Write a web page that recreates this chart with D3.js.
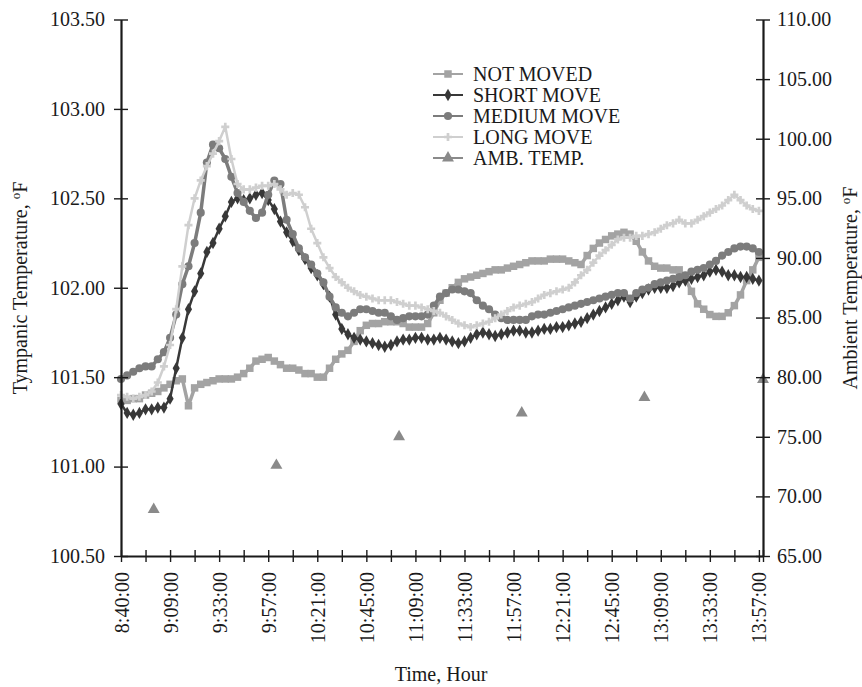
<!DOCTYPE html>
<html>
<head>
<meta charset="utf-8">
<script src="https://cdn.jsdelivr.net/npm/d3@7"></script>
<style>
  body { margin: 0; background: #fff; }
  text { font-family: "Liberation Serif", "Times New Roman", serif; fill: #1a1a1a; }
</style>
</head>
<body>
<script>
// one reading every 3 minutes-of-record (category index = k * 3)
const timeLabels = ["8:40:00", "9:09:00", "9:33:00", "9:57:00", "10:21:00", "10:45:00", "11:09:00",
  "11:33:00", "11:57:00", "12:21:00", "12:45:00", "13:09:00", "13:33:00", "13:57:00"];

const notMoved = [101.37, 101.37, 101.38, 101.38, 101.40, 101.41, 101.42, 101.44, 101.46, 101.48,
  101.49, 101.34, 101.44, 101.46, 101.47, 101.48, 101.49, 101.49, 101.49, 101.50,
  101.52, 101.55, 101.59, 101.60, 101.61, 101.59, 101.57, 101.55, 101.55, 101.54,
  101.52, 101.52, 101.50, 101.50, 101.55, 101.60, 101.63, 101.65, 101.70, 101.76,
  101.79, 101.80, 101.80, 101.81, 101.81, 101.81, 101.80, 101.78, 101.78, 101.78,
  101.80, 101.86, 101.93, 101.97, 102.00, 102.03, 102.05, 102.06, 102.07, 102.08,
  102.09, 102.10, 102.10, 102.11, 102.12, 102.13, 102.14, 102.15, 102.15, 102.15,
  102.16, 102.16, 102.16, 102.15, 102.14, 102.13, 102.18, 102.22, 102.25, 102.27,
  102.29, 102.30, 102.31, 102.30, 102.26, 102.20, 102.15, 102.12, 102.11, 102.11,
  102.10, 102.10, 102.05, 101.98, 101.91, 101.88, 101.85, 101.84, 101.84, 101.86,
  101.90, 101.96, 102.04, 102.10, 102.17];

const shortMove = [101.35, 101.30, 101.29, 101.30, 101.32, 101.32, 101.33, 101.33, 101.38, 101.55,
  101.72, 101.88, 101.98, 102.08, 102.20, 102.25, 102.33, 102.40, 102.48, 102.50,
  102.49, 102.50, 102.52, 102.53, 102.49, 102.44, 102.37, 102.31, 102.26, 102.21,
  102.16, 102.11, 102.07, 102.02, 101.95, 101.85, 101.77, 101.74, 101.72, 101.71,
  101.70, 101.69, 101.68, 101.67, 101.68, 101.70, 101.71, 101.71, 101.72, 101.72,
  101.71, 101.71, 101.72, 101.71, 101.70, 101.69, 101.70, 101.72, 101.74, 101.75,
  101.74, 101.73, 101.74, 101.75, 101.76, 101.76, 101.75, 101.75, 101.76, 101.77,
  101.77, 101.78, 101.78, 101.79, 101.80, 101.81, 101.83, 101.85, 101.87, 101.89,
  101.91, 101.93, 101.95, 101.92, 101.95, 101.97, 101.99, 102.00, 102.00, 102.00,
  102.01, 102.03, 102.04, 102.05, 102.06, 102.07, 102.09, 102.10, 102.09, 102.07,
  102.07, 102.06, 102.06, 102.05, 102.04];

const mediumMove = [101.49, 101.51, 101.53, 101.55, 101.56, 101.56, 101.60, 101.64, 101.72, 101.85,
  102.02, 102.12, 102.25, 102.42, 102.70, 102.80, 102.78, 102.72, 102.62, 102.53,
  102.48, 102.43, 102.39, 102.42, 102.52, 102.60, 102.58, 102.38, 102.30, 102.22,
  102.17, 102.13, 102.08, 102.03, 101.95, 101.89, 101.86, 101.84, 101.86, 101.88,
  101.88, 101.87, 101.86, 101.86, 101.84, 101.82, 101.83, 101.84, 101.84, 101.84,
  101.85, 101.90, 101.95, 101.97, 101.99, 101.99, 101.98, 101.97, 101.93, 101.90,
  101.88, 101.85, 101.83, 101.82, 101.82, 101.82, 101.82, 101.84, 101.85, 101.85,
  101.86, 101.87, 101.88, 101.89, 101.90, 101.91, 101.92, 101.93, 101.94, 101.95,
  101.96, 101.97, 101.97, 101.94, 101.97, 101.99, 102.00, 102.02, 102.03, 102.04,
  102.05, 102.06, 102.07, 102.09, 102.10, 102.11, 102.13, 102.15, 102.18, 102.20,
  102.22, 102.23, 102.23, 102.22, 102.20];

const longMove = [101.40, 101.39, 101.38, 101.39, 101.40, 101.42, 101.47, 101.56, 101.68, 101.88,
  102.12, 102.35, 102.50, 102.60, 102.68, 102.75, 102.82, 102.90, 102.72, 102.58,
  102.55, 102.55, 102.56, 102.57, 102.57, 102.58, 102.55, 102.52, 102.53, 102.52,
  102.45, 102.33, 102.25, 102.17, 102.11, 102.06, 102.03, 102.00, 101.98, 101.96,
  101.95, 101.94, 101.93, 101.93, 101.93, 101.92, 101.91, 101.90, 101.90, 101.89,
  101.88, 101.87, 101.86, 101.84, 101.82, 101.80, 101.79, 101.78, 101.79, 101.80,
  101.81, 101.83, 101.85, 101.87, 101.89, 101.90, 101.91, 101.92, 101.94, 101.96,
  101.97, 101.98, 101.99, 102.00, 102.03, 102.07, 102.10, 102.14, 102.18, 102.21,
  102.24, 102.27, 102.28, 102.28, 102.29, 102.29, 102.30, 102.31, 102.33, 102.35,
  102.36, 102.38, 102.36, 102.36, 102.38, 102.40, 102.42, 102.44, 102.46, 102.49,
  102.52, 102.49, 102.46, 102.44, 102.43];

// ambient temperature, only a few readings (category index + value)
const ambIndex = [16, 76, 136, 196, 256, 314];
const ambTemp = [68.9, 72.6, 75.0, 77.0, 78.3, 79.8];

const seriesNames = ["NOT MOVED", "SHORT MOVE", "MEDIUM MOVE", "LONG MOVE", "AMB. TEMP."];
const seriesColors = ["#a3a3a3", "#383838", "#7c7c7c", "#cfcfcf", "#8a8a8a"];

const width = 862, height = 687;
const plotLeft = 121, plotRight = 763, plotTop = 19.5, plotBottom = 556;

const svg = d3.select("body").append("svg")
  .attr("width", width)
  .attr("height", height);

const x = d3.scaleLinear().domain([0, 314]).range([plotLeft, plotRight]);
const yL = d3.scaleLinear().domain([100.5, 103.5]).range([plotBottom, plotTop]);
const yR = d3.scaleLinear().domain([65, 110]).range([plotBottom, plotTop]);

const symbols = [
  d3.symbol().type(d3.symbolSquare).size(56),
  d3.symbol().type(d3.symbolDiamond).size(44),
  d3.symbol().type(d3.symbolCircle).size(52),
  d3.symbol().type(d3.symbolCross).size(36),
  d3.symbol().type(d3.symbolTriangle).size(62)
];
const lineWidths = [3.5, 2.5, 3.5, 2.5];

// series lines + markers, drawn in legend order
const allSeries = [notMoved, shortMove, mediumMove, longMove];
allSeries.forEach((vals, s) => {
  const pts = vals.map((v, k) => ({ i: k * 3, v: v }));
  const line = d3.line().x(d => x(d.i)).y(d => yL(d.v));
  svg.append("path")
    .datum(pts)
    .attr("fill", "none")
    .attr("stroke", seriesColors[s])
    .attr("stroke-width", lineWidths[s])
    .attr("stroke-linejoin", "round")
    .attr("d", line);
  svg.append("g").selectAll("path")
    .data(pts)
    .enter()
    .append("path")
    .attr("transform", d => `translate(${x(d.i)},${yL(d.v)})`)
    .attr("d", symbols[s]())
    .attr("fill", seriesColors[s]);
});

// ambient: markers only (no joining line on the plot)
svg.append("g").selectAll("path")
  .data(ambIndex.map((i, k) => ({ i: i, v: ambTemp[k] })))
  .enter()
  .append("path")
  .attr("transform", d => `translate(${x(d.i)},${yR(d.v)})`)
  .attr("d", symbols[4]())
  .attr("fill", seriesColors[4]);

// axes
const fmt = d3.format(".2f");
const gL = svg.append("g")
  .attr("transform", `translate(${plotLeft},0)`)
  .call(d3.axisLeft(yL).tickValues(d3.range(100.5, 103.51, 0.5)).tickFormat(fmt)
    .tickSizeInner(8).tickSizeOuter(0).tickPadding(8));
gL.selectAll(".tick line").attr("x1", -7).attr("x2", 7);

const gR = svg.append("g")
  .attr("transform", `translate(${plotRight},0)`)
  .call(d3.axisRight(yR).tickValues(d3.range(65, 110.1, 5)).tickFormat(fmt)
    .tickSizeInner(8).tickSizeOuter(0).tickPadding(6));
gR.selectAll(".tick line").attr("x1", -7).attr("x2", 7);

const gB = svg.append("g")
  .attr("transform", `translate(0,${plotBottom})`)
  .call(d3.axisBottom(x).tickValues(d3.range(0, 313, 12).concat([314]))
    .tickFormat(d => (d % 24 === 0 && d <= 312) ? timeLabels[d / 24] : "")
    .tickSizeInner(6).tickSizeOuter(0));
gB.selectAll(".tick line").attr("y1", -6).attr("y2", 6);
gB.selectAll(".tick text")
  .attr("transform", "rotate(-90)")
  .attr("x", -16)
  .attr("y", 0)
  .attr("dy", "0.35em")
  .style("text-anchor", "end");

[gL, gR, gB].forEach(g => {
  g.select(".domain").attr("stroke", "#1a1a1a").attr("stroke-width", 2.2);
  g.selectAll(".tick line").attr("stroke", "#1a1a1a").attr("stroke-width", 1.4);
  g.selectAll(".tick text")
    .attr("fill", "#1a1a1a")
    .style("font-size", "20px")
    .style("font-family", "'Liberation Serif', serif");
});

// axis titles
const titleL = svg.append("text")
  .attr("transform", "translate(27,288) rotate(-90)")
  .attr("text-anchor", "middle")
  .style("font-size", "20px");
titleL.append("tspan").text("Tympanic Temperature, ");
titleL.append("tspan").attr("dy", -7).style("font-size", "13px").text("o");
titleL.append("tspan").attr("dy", 7).text("F");

const titleR = svg.append("text")
  .attr("transform", "translate(857,288) rotate(-90)")
  .attr("text-anchor", "middle")
  .style("font-size", "20px");
titleR.append("tspan").text("Ambient Temperature, ");
titleR.append("tspan").attr("dy", -7).style("font-size", "13px").text("o");
titleR.append("tspan").attr("dy", 7).text("F");

svg.append("text")
  .attr("x", 441)
  .attr("y", 681)
  .attr("text-anchor", "middle")
  .style("font-size", "20px")
  .text("Time, Hour");

// legend
const legend = svg.append("g");
seriesNames.forEach((name, s) => {
  const ly = 74 + s * 21;
  legend.append("line")
    .attr("x1", 433).attr("x2", 463)
    .attr("y1", ly).attr("y2", ly)
    .attr("stroke", seriesColors[s])
    .attr("stroke-width", 2);
  legend.append("path")
    .attr("transform", `translate(448,${ly})`)
    .attr("d", symbols[s]())
    .attr("fill", seriesColors[s]);
  legend.append("text")
    .attr("x", 473)
    .attr("y", ly)
    .attr("dy", "0.35em")
    .style("font-size", "20px")
    .text(name);
});
</script>
</body>
</html>
